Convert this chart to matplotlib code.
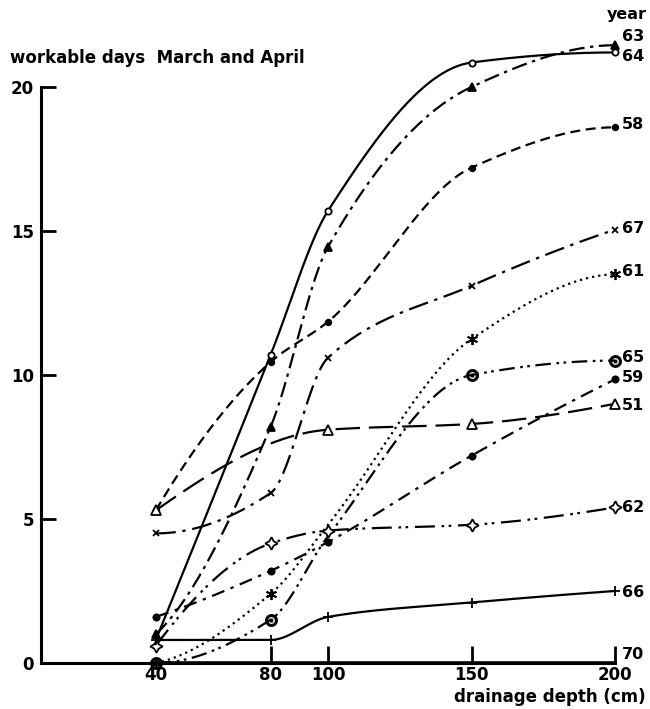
import numpy as np
import matplotlib
matplotlib.use("Agg")
import matplotlib.pyplot as plt

# ---------------- data ----------------
depth = [40, 80, 100, 150, 200]
years = ["63", "64", "58", "67", "61", "65", "59", "51", "62", "66", "70"]
y63 = [1.0, 8.2, 14.45, 20.0, 21.45]
y64 = [0.8, 10.7, 15.7, 20.85, 21.2]
y58 = [5.3, 10.45, 11.85, 17.2, 18.6]
y67 = [4.5, 5.9, 10.6, 13.1, 15.05]
y61 = [0.0, 2.4, 4.8, 11.25, 13.5]
y65 = [0.0, 1.5, 4.4, 10.0, 10.5]
y59 = [1.6, 3.2, 4.2, 7.2, 9.85]
y51 = [5.3, None, 8.1, 8.3, 9.0]
y62 = [0.6, 4.15, 4.6, 4.8, 5.4]
y66 = [0.8, 0.8, 1.6, 2.1, 2.5]
y70 = [0.0, 0.0, 0.0, 0.0, 0.0]
label_y = [21.75, 21.05, 18.7, 15.1, 13.6, 10.6, 9.9, 8.95, 5.4, 2.45, 0.3]
yticks = [0, 5, 10, 15, 20]
xticks_major = [80, 100, 150, 200]

series = [y63, y64, y58, y67, y61, y65, y59, y51, y62, y66, y70]

# ---------------- styles ----------------
styles = {
    "63": dict(ls=(0, (7, 2.5, 1.5, 2.5)), marker="^", ms=6, mfc="black"),
    "64": dict(ls="-", marker="o", ms=4.5, mfc="white"),
    "58": dict(ls=(0, (4.5, 2.5)), marker="o", ms=4, mfc="black"),
    "67": dict(ls=(0, (9, 3, 1.5, 3)), marker="x", ms=5, mfc="black"),
    "61": dict(ls=(0, (1, 1.8)), marker=(6, 2, 0), ms=8, mfc="black"),
    "65": dict(ls=(0, (7, 2.5, 1.2, 2, 1.2, 2.5)), marker="$\\odot$", ms=8, mfc="black"),
    "59": dict(ls=(0, (6, 3, 1.5, 3)), marker="o", ms=4.5, mfc="black"),
    "51": dict(ls=(0, (11, 4)), marker="^", ms=7, mfc="white"),
    "62": dict(ls=(0, (9, 3, 1.2, 2, 1.2, 3)), marker=(4, 1, 0), ms=9, mfc="white"),
    "66": dict(ls="-", marker="+", ms=7, mfc="black"),
    "70": dict(ls="-", marker=None, ms=0, mfc="black"),
}
hide_marker = {"61": [100], "65": [100], "70": [40, 80, 100, 150, 200], "64": [40]}


def pchip(x, y, xs):
    x = np.asarray(x, float)
    y = np.asarray(y, float)
    h = np.diff(x)
    d = np.diff(y) / h
    n = len(x)
    m = np.zeros(n)
    for k in range(1, n - 1):
        if d[k - 1] * d[k] <= 0:
            m[k] = 0.0
        else:
            w1 = 2 * h[k] + h[k - 1]
            w2 = h[k] + 2 * h[k - 1]
            m[k] = (w1 + w2) / (w1 / d[k - 1] + w2 / d[k])
    m[0] = d[0]
    m[-1] = d[-1]
    if n > 2:
        m0 = ((2 * h[0] + h[1]) * d[0] - h[0] * d[1]) / (h[0] + h[1])
        if np.sign(m0) != np.sign(d[0]):
            m0 = 0.0
        elif np.sign(d[0]) != np.sign(d[1]) and abs(m0) > abs(3 * d[0]):
            m0 = 3 * d[0]
        m[0] = m0
        mn = ((2 * h[-1] + h[-2]) * d[-1] - h[-1] * d[-2]) / (h[-1] + h[-2])
        if np.sign(mn) != np.sign(d[-1]):
            mn = 0.0
        elif np.sign(d[-1]) != np.sign(d[-2]) and abs(mn) > abs(3 * d[-1]):
            mn = 3 * d[-1]
        m[-1] = mn
    out = np.empty_like(xs)
    idx = np.clip(np.searchsorted(x, xs) - 1, 0, n - 2)
    for i, xv in enumerate(xs):
        k = idx[i]
        t = (xv - x[k]) / h[k]
        h00 = 2 * t**3 - 3 * t**2 + 1
        h10 = t**3 - 2 * t**2 + t
        h01 = -2 * t**3 + 3 * t**2
        h11 = t**3 - t**2
        out[i] = h00 * y[k] + h10 * h[k] * m[k] + h01 * y[k + 1] + h11 * h[k] * m[k + 1]
    return out


plt.rcParams["font.family"] = ["DejaVu Sans"]
fig = plt.figure(figsize=(6.5, 7.09), dpi=100)
ax = fig.add_axes([41 / 650, 46 / 709, (615 - 41) / 650, (663 - 87) / 709])
ax.set_xlim(0, 200)
ax.set_ylim(0, 20)

for name, vals in zip(years, series):
    st = styles[name]
    xs_pts = [d for d, v in zip(depth, vals) if v is not None]
    ys_pts = [v for v in vals if v is not None]
    xx = np.linspace(xs_pts[0], xs_pts[-1], 300)
    yy = pchip(xs_pts, ys_pts, xx)
    lw = 2.6 if name == "70" else 1.6
    ax.plot(xx, yy, color="black", lw=lw, ls=st["ls"], clip_on=False,
            solid_capstyle="butt", zorder=3)
    hid = hide_marker.get(name, [])
    mx = [x for x in xs_pts if x not in hid]
    my = [y for x, y in zip(xs_pts, ys_pts) if x not in hid]
    if st["marker"] is not None and mx:
        ax.plot(mx, my, ls="none", marker=st["marker"], ms=st["ms"],
                mfc=st["mfc"], mec="black", mew=1.3, clip_on=False, zorder=4)

# labels at right
for name, ly in zip(years, label_y):
    ax.text(202.5, ly, name, fontsize=11.5, fontweight="bold", ha="left",
            va="center", clip_on=False)
fig.text(647 / 650, 1 - 15 / 709, "year", fontsize=11.5, fontweight="bold",
         ha="right", va="center")

# axes styling
for s in ["top", "right"]:
    ax.spines[s].set_visible(False)
for s in ["left", "bottom"]:
    ax.spines[s].set_linewidth(2.2)
ax.set_yticks(yticks)
ax.set_yticklabels([str(v) for v in yticks], fontsize=12, fontweight="bold")
ax.tick_params(axis="y", direction="in", length=11, width=2, pad=5)
ax.set_xticks(xticks_major)
ax.set_xticklabels([str(v) for v in xticks_major], fontsize=12, fontweight="bold")
ax.set_xticks([40], minor=True)
ax.set_xticklabels(["40"], minor=True, fontsize=12, fontweight="bold")
ax.tick_params(axis="x", which="major", direction="in", length=12, width=2, pad=2)
ax.tick_params(axis="x", which="minor", length=0, pad=2)

fig.text(10 / 650, 1 - 58 / 709, "workable days  March and April", fontsize=12,
         fontweight="bold", ha="left", va="center")
fig.text(646 / 650, 1 - 697 / 709, "drainage depth (cm)", fontsize=12,
         fontweight="bold", ha="right", va="center")

fig.savefig("out.png", dpi=100, facecolor="white")
